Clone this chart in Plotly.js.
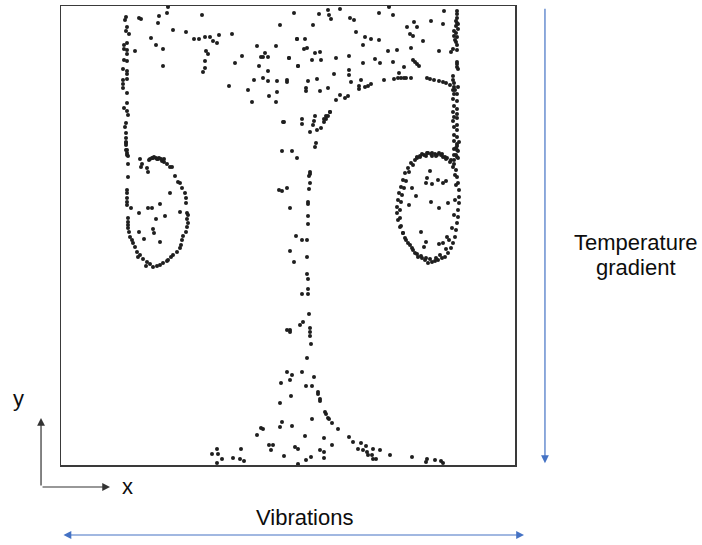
<!DOCTYPE html>
<html><head><meta charset="utf-8">
<script src="https://cdn.plot.ly/plotly-3.0.1.min.js"></script>
<style>body{margin:0;background:#fff}#c{width:702px;height:545px}</style>
</head><body><div id="c"></div>
<script>
// Particle positions inside the box (horizontal position, depth from top)
const leftWallX = [127,126,129,127,124,124,127,127,124,127,123,127,127,127,123,123,123,127,127,124,127,128,126,125,126,126,126,127,127,126,126,126,127,128,128,128,127,127,127,127,127,131,128,128,128,128,129,130,132,125,126];
const leftWallY = [27,31,34,43,45,49,50,54,60,61,69,71,74,79,80,84,88,93,103,108,111,115,123,127,133,138,143,150,155,142,145,150,153,156,164,177,190,193,198,202,205,208,218,222,225,228,232,237,240,20,17];

const rightWallX = [457,457,456,457,458,456,458,454,456,454,457,455,456,457,453,457,457,457,457,458,453,453,454,454,458,453,455,454,457,453,457,454,457,453,457,454,457,453,457,454,457,454,457,454,457,456,454,458,454,457,459,457,457,456,454,458,457];
const rightWallY = [14,18,21,23,24,26,29,31,33,36,37,40,42,45,49,50,62,64,67,69,76,80,83,87,87,90,90,94,94,99,101,106,109,112,114,117,118,121,125,127,130,135,137,141,144,148,149,151,155,157,142,146,150,155,160,158,11];

const leftVortexX = [140,150,153,156,158,161,164,142,141,147,148,149,152,154,157,159,162,164,167,170,172,175,178,180,182,185,186,186,187,188,187,188,187,186,183,182,181,180,177,173,171,167,163,160,157,153,150,147,143,140,137,135,133,170,152,148,160,139,156,165,180,139,144,153,154,160,168,146,138];
const leftVortexY = [159,159,158,158,159,159,159,164,167,168,172,160,158,157,159,158,161,162,164,167,167,176,182,183,188,193,198,203,213,215,219,223,227,232,236,240,245,248,252,255,257,261,263,265,266,267,264,262,259,255,252,247,243,193,208,208,204,213,219,216,212,232,239,229,233,242,260,266,257];

const rightVortexX = [417,422,427,432,437,442,445,413,417,420,424,428,432,435,439,443,447,451,454,456,457,458,459,459,459,458,458,457,456,455,453,451,448,445,442,438,435,432,428,425,422,418,415,412,408,405,403,400,398,397,397,398,399,401,403,405,408,411,455,456,455,454,452,449,446,440,436,430,426,421,417,413,410,406,403,401,400,400,401,402,404,406,409,415,420,426,431,436,441,446,450,453,430,427,426,432,438,443,446,412,416,431,448,409,439,421,426,424,439,443,447];
const rightVortexY = [157,154,153,153,155,154,157,165,158,156,155,153,156,154,153,157,158,160,164,170,177,183,190,197,203,210,217,223,230,237,243,248,253,257,258,260,261,262,263,260,258,257,253,248,243,238,233,227,220,213,207,200,193,187,180,173,168,163,175,185,200,215,228,240,249,255,258,259,258,256,254,250,245,240,233,226,218,210,202,195,188,181,172,160,157,156,154,156,155,159,162,167,171,178,183,184,180,183,181,188,196,202,203,205,208,232,242,247,244,243,237];

const stemX = [297,310,310,309,310,279,282,287,309,308,308,290,308,308,296,302,307,290,307,294,307,308,308,302,308,309,303,300,287,290,290,310,310,310,311,315,314,313,302,302,284,310,317,321,316,315,282,292,324,326,328,330];
const stemY = [158,172,174,176,183,190,191,188,189,202,204,208,216,224,236,240,240,251,257,262,274,279,289,294,294,314,322,325,330,330,332,328,332,336,344,116,121,125,119,124,122,132,130,128,143,147,151,151,122,119,116,112];

const plumeX = [307,287,292,290,281,302,314,306,312,318,318,291,320,320,280,325,326,328,329,332,282,280,312,292,338,261,263,257,305,324,349,353,361,366,358,363,367,373,380,269,273,271,295,298,332,320,324,284,324,311,306,390,372,373,376,368,412,427,426,435,441,443,212,217,218,222,217,233,240,241,244,298];
const plumeY = [358,372,375,380,383,372,377,386,386,392,394,396,399,401,403,412,414,418,419,423,422,427,419,426,429,428,429,435,436,438,437,442,443,446,449,450,452,449,450,445,445,450,447,449,445,450,452,456,458,457,460,455,455,459,459,455,457,459,462,460,461,463,454,449,454,459,463,458,459,449,461,464];

const cloudX = [168,139,141,159,167,158,202,173,186,151,156,163,163,135,194,199,205,210,219,213,217,206,208,205,205,203,232,235,242,229,248,252,254,257,259,261,263,265,268,263,268,268,269,276,277,277,276,280,287,287,289,294,297,298,283,319,328,329,331,340,313,350,354,379,389,393,431,444,443,407,414,417,410,413,423,356,365,371,379,363,297,305,304,307,315,320,289,312,321,336,349,298,363,375,380,393,388,397,411,439,451,404,399,413,415,417,419,349,349,334,308,317,306,306,320,328,351,361,359,359,365,368,371,384,394,398,401,404,406,411,427,430,434,439,443,446,450,340,345,348,336,330,326,324];
const cloudY = [7,18,19,16,13,23,15,30,32,38,45,49,66,51,39,39,37,37,35,41,43,51,54,61,68,72,34,63,56,86,90,102,80,46,66,57,57,53,57,78,81,71,96,102,92,81,46,25,80,82,58,13,39,66,122,14,10,15,19,9,25,18,20,13,7,15,21,11,24,27,22,27,34,36,41,32,37,39,40,45,39,39,49,48,53,52,58,60,60,58,56,66,63,59,63,62,51,50,48,51,52,67,73,60,62,64,66,70,75,74,81,79,88,91,91,88,82,80,86,89,87,86,84,80,79,78,78,78,78,78,78,79,80,81,82,83,85,95,98,96,100,112,116,119];

const groups = [
  [leftWallX, leftWallY], [rightWallX, rightWallY], [leftVortexX, leftVortexY],
  [rightVortexX, rightVortexY], [stemX, stemY], [plumeX, plumeY], [cloudX, cloudY]
];
const traces = groups.map(g => ({
  x: g[0], y: g[1], type: 'scatter', mode: 'markers',
  marker: {size: 4, color: '#1e1e1e'}, hoverinfo: 'skip', showlegend: false
}));

const arrowBlue = '#4472C4';
const txt = {size: 22, color: '#0d0d0d'};
const layout = {
  width: 702, height: 545,
  margin: {l: 61, r: 187, t: 6, b: 80, pad: 0},
  paper_bgcolor: '#fff', plot_bgcolor: '#fff',
  xaxis: {range: [61, 515], showgrid: false, zeroline: false, showticklabels: false, ticks: '',
          showline: true, mirror: true, linecolor: '#3a3a3a', linewidth: 1.5, fixedrange: true},
  yaxis: {range: [465, 6], showgrid: false, zeroline: false, showticklabels: false, ticks: '',
          showline: true, mirror: true, linecolor: '#3a3a3a', linewidth: 1.5, fixedrange: true},
  font: {family: 'Liberation Sans, Arial, sans-serif', color: '#111'},
  annotations: [
    {xref: 'paper', yref: 'paper', x: 1.066, y: 0.004, ax: 0, ay: -456, axref: 'pixel', ayref: 'pixel',
     text: '', showarrow: true, arrowhead: 2, arrowsize: 1.3, arrowwidth: 1.2, arrowcolor: arrowBlue},
    {xref: 'paper', yref: 'paper', x: 1.0198, y: -0.1525, ax: -462, ay: 0, axref: 'pixel', ayref: 'pixel',
     text: '', showarrow: true, arrowhead: 2, startarrowhead: 2, arrowside: 'end+start',
     arrowsize: 1.3, startarrowsize: 1.3, arrowwidth: 1.2, arrowcolor: arrowBlue},
    {xref: 'paper', yref: 'paper', x: -0.044, y: 0.1024, ax: 0, ay: 69, axref: 'pixel', ayref: 'pixel',
     text: '', showarrow: true, arrowhead: 2, arrowsize: 1.3, arrowwidth: 1.2, arrowcolor: '#333'},
    {xref: 'paper', yref: 'paper', x: 0.108, y: -0.0479, ax: -69, ay: 0, axref: 'pixel', ayref: 'pixel',
     text: '', showarrow: true, arrowhead: 2, arrowsize: 1.3, arrowwidth: 1.2, arrowcolor: '#333'},
    {xref: 'paper', yref: 'paper', x: 1.2665, y: 0.4837, text: 'Temperature', showarrow: false,
     font: txt, xanchor: 'center', yanchor: 'middle'},
    {xref: 'paper', yref: 'paper', x: 1.2665, y: 0.4292, text: 'gradient', showarrow: false,
     font: txt, xanchor: 'center', yanchor: 'middle'},
    {xref: 'paper', yref: 'paper', x: 0.5363, y: -0.1133, text: 'Vibrations', showarrow: false,
     font: txt, xanchor: 'center', yanchor: 'middle'},
    {xref: 'paper', yref: 'paper', x: -0.0947, y: 0.144, text: 'y', showarrow: false,
     font: txt, xanchor: 'center', yanchor: 'middle'},
    {xref: 'paper', yref: 'paper', x: 0.1465, y: -0.0468, text: 'x', showarrow: false,
     font: txt, xanchor: 'center', yanchor: 'middle'}
  ]
};
Plotly.newPlot('c', traces, layout, {staticPlot: true, displayModeBar: false});
</script></body></html>
